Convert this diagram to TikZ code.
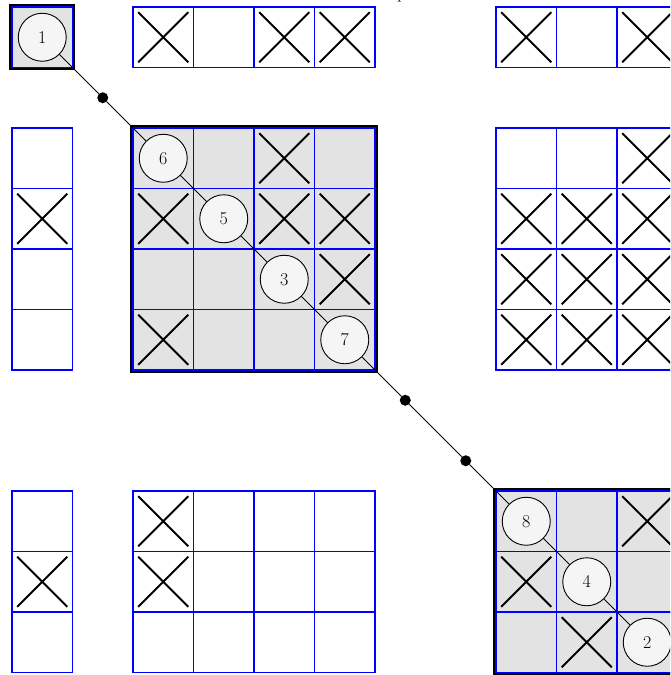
\documentclass[tikz,border=0pt]{standalone}
\begin{document}
\begin{tikzpicture}[x=60.5pt,y=-60.5pt,
  cellbox/.style={draw=blue,line width=1.5pt},
  crossmark/.style={draw=black,line width=1.8pt},
  blockframe/.style={draw=black,line width=3pt,fill=black!11},
  numnode/.style={circle,draw=black,line width=0.9pt,fill=black!4,minimum size=48pt,inner sep=0pt,font=\fontsize{18}{20}\selectfont},
  dotnode/.style={circle,fill=black,minimum size=11pt,inner sep=0pt},
  diagline/.style={draw=black,line width=0.9pt}]
\useasboundingbox (-12/60.5,-7/60.5) rectangle (658/60.5,668/60.5);
\clip (-12/60.5,-7/60.5) rectangle (658/60.5,668/60.5);
% diagonal blocks
\foreach \a/\b in {0/1,2/6,8/11}
  \draw[blockframe] (\a-0.017,\a-0.017) rectangle (\b+0.017,\b+0.017);
% cells
\foreach \r in {0,2,3,4,5,8,9,10}
  \foreach \c in {0,2,3,4,5,8,9,10}
    \draw[cellbox] (\c,\r) rectangle +(1,1);
% crosses
\foreach \c/\r in {2/0,4/0,5/0,8/0,10/0,
                   0/3,4/2,10/2,
                   2/3,4/3,5/3,8/3,9/3,10/3,
                   5/4,8/4,9/4,10/4,
                   2/5,8/5,9/5,10/5,
                   2/8,10/8,
                   0/9,2/9,8/9,
                   9/10}
  \draw[crossmark] (\c+0.085,\r+0.085) -- (\c+0.915,\r+0.915)
                   (\c+0.915,\r+0.085) -- (\c+0.085,\r+0.915);
% numbered nodes
\node[numnode] (c1) at (0.5,0.5) {1};
\node[numnode] (c6) at (2.5,2.5) {6};
\node[numnode] (c5) at (3.5,3.5) {5};
\node[numnode] (c3) at (4.5,4.5) {3};
\node[numnode] (c7) at (5.5,5.5) {7};
\node[numnode] (c8) at (8.5,8.5) {8};
\node[numnode] (c4) at (9.5,9.5) {4};
\node[numnode] (c2) at (10.5,10.5) {2};
\node[dotnode] (d1) at (1.5,1.5) {};
\node[dotnode] (d2) at (6.5,6.5) {};
\node[dotnode] (d3) at (7.5,7.5) {};
\draw[diagline] (c1) -- (d1) -- (c6) -- (c5) -- (c3) -- (c7) -- (d2) -- (d3) -- (c8) -- (c4) -- (c2);
% partially visible label at the top
\node[anchor=base,inner sep=0pt,font=\fontsize{18}{20}\selectfont] (ptext) at (6.44,-0.14) {p};
\end{tikzpicture}
\end{document}
